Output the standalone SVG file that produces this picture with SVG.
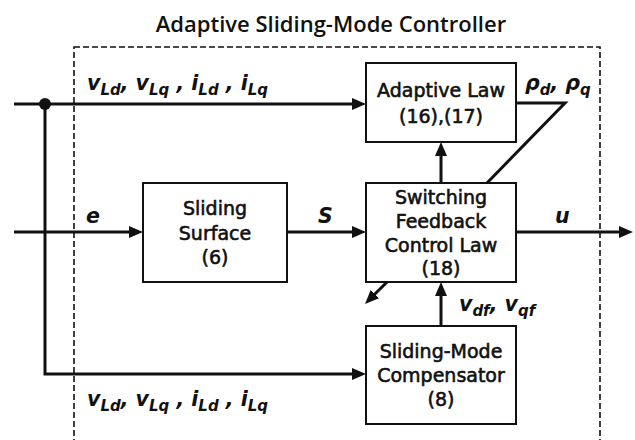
<svg xmlns="http://www.w3.org/2000/svg" width="635" height="440" viewBox="0 0 635 440">
  <defs>
    <marker id="ah" viewBox="0 0 14 12" refX="6" refY="6" markerWidth="14" markerHeight="12" orient="auto" markerUnits="userSpaceOnUse">
      <path d="M0,0 L14,6 L0,12 z" fill="#111"/>
    </marker>
    <style>
      .box { fill: #fff; stroke: #111; stroke-width: 2; }
      .wire { fill: none; stroke: #111; stroke-width: 3; }
      .arrow { marker-end: url(#ah); }
      .frame { fill: none; stroke: #111; stroke-width: 1.6; stroke-dasharray: 6 3; }
      .node { font-family: "DejaVu Sans", "Noto Sans", sans-serif; font-size: 19px; fill: #111; stroke: #111; stroke-width: 0.6; text-anchor: middle; }
      .title { font-family: "Open Sans", "Noto Sans", "Liberation Sans", sans-serif; font-size: 22px; font-weight: 600; fill: #111; text-anchor: middle; }
      .sym { font-family: "DejaVu Sans", "Noto Sans", sans-serif; font-size: 20.5px; font-weight: bold; font-style: italic; fill: #111; }
      .sub { font-size: 15px; }
    </style>
  </defs>

  <!-- controller boundary -->
  <text class="title" x="331" y="32">Adaptive Sliding-Mode Controller</text>
  <rect class="frame" x="74" y="47" width="526" height="420"/>

  <!-- signal connections -->
  <g id="connectors">
    <path class="wire arrow" d="M14,104 H358"/>
    <path class="wire arrow" d="M45,104 V374 H358"/>
    <circle cx="45" cy="104" r="6" fill="#111"/>
    <path class="wire arrow" d="M14,232 H135"/>
    <path class="wire arrow" d="M287,232 H358"/>
    <path class="wire arrow" d="M516,232 H625"/>
    <path class="wire arrow" d="M441,183 V150"/>
    <path class="wire arrow" d="M441,326 V290"/>
    <path class="wire" d="M516,103 H565 L487,183"/>
    <path class="wire arrow" d="M387,282 L370.7,298.3"/>
  </g>

  <!-- signal labels -->
  <text class="sym" x="87" y="90">v<tspan class="sub" dy="5">Ld</tspan><tspan dy="-5">, v</tspan><tspan class="sub" dy="5">Lq</tspan><tspan dy="-5"> , i</tspan><tspan class="sub" dy="5">Ld</tspan><tspan dy="-5"> , i</tspan><tspan class="sub" dy="5">Lq</tspan></text>
  <text class="sym" x="87" y="406">v<tspan class="sub" dy="5">Ld</tspan><tspan dy="-5">, v</tspan><tspan class="sub" dy="5">Lq</tspan><tspan dy="-5"> , i</tspan><tspan class="sub" dy="5">Ld</tspan><tspan dy="-5"> , i</tspan><tspan class="sub" dy="5">Lq</tspan></text>
  <text class="sym" x="86" y="223">e</text>
  <text class="sym" x="318" y="223">S</text>
  <text class="sym" x="555" y="223">u</text>
  <text class="sym" x="525" y="90">ρ<tspan class="sub" dy="5">d</tspan><tspan dy="-5">, ρ</tspan><tspan class="sub" dy="5">q</tspan></text>
  <text class="sym" x="459" y="311">v<tspan class="sub" dy="5">df</tspan><tspan dy="-5">, v</tspan><tspan class="sub" dy="5">qf</tspan></text>

  <g id="adaptive-law">
    <rect class="box" x="366" y="63" width="150" height="79"/>
    <text class="node" x="441" y="97">Adaptive Law</text>
    <text class="node" x="441" y="123">(16),(17)</text>
  </g>

  <g id="sliding-surface">
    <rect class="box" x="143" y="183" width="144" height="99"/>
    <text class="node" x="215" y="215">Sliding</text>
    <text class="node" x="215" y="240">Surface</text>
    <text class="node" x="215" y="264">(6)</text>
  </g>

  <g id="switching-law">
    <rect class="box" x="366" y="183" width="150" height="99"/>
    <text class="node" x="441" y="204">Switching</text>
    <text class="node" x="441" y="228">Feedback</text>
    <text class="node" x="441" y="252">Control Law</text>
    <text class="node" x="441" y="275">(18)</text>
  </g>

  <g id="compensator">
    <rect class="box" x="366" y="326" width="150" height="98"/>
    <text class="node" x="441" y="358">Sliding-Mode</text>
    <text class="node" x="441" y="382">Compensator</text>
    <text class="node" x="441" y="406">(8)</text>
  </g>
</svg>
